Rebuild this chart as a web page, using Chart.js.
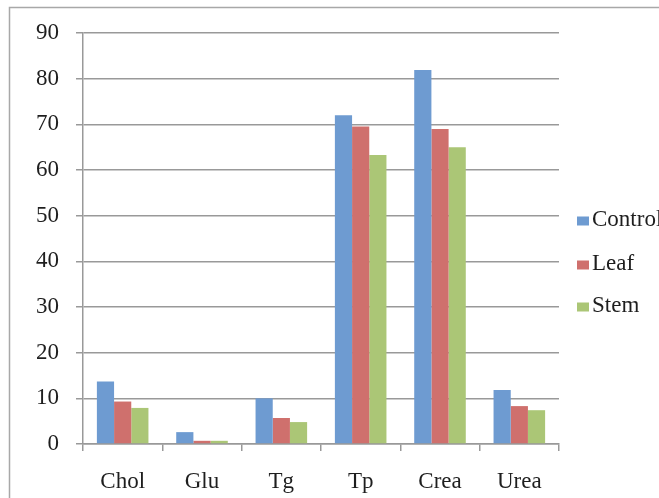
<!DOCTYPE html>
<html>
<head>
<meta charset="utf-8">
<script src="https://cdn.jsdelivr.net/npm/chart.js@4/dist/chart.umd.min.js"></script>
<style>
  html, body { margin: 0; padding: 0; background: #fff; overflow: hidden; }
  #wrap { width: 659px; height: 498px; }
</style>
</head>
<body>
<div id="wrap"><canvas id="c" width="659" height="498"></canvas></div>
<script>
// Serum parameters per group
const categories = ['Chol', 'Glu', 'Tg', 'Tp', 'Crea', 'Urea'];
const controlValues = [13.7, 2.6, 10.0, 72.0, 81.9, 11.8];
const leafValues    = [9.3, 0.7, 5.7, 69.5, 69.0, 8.3];
const stemValues    = [7.9, 0.7, 4.8, 63.3, 65.0, 7.4];
const yTicks = [0, 10, 20, 30, 40, 50, 60, 70, 80, 90];

const seriesNames = ['Control', 'Leaf', 'Stem'];
const seriesColors = ['#6e9bd1', '#cf706d', '#abc676'];

const FONT = '"Liberation Serif", "Times New Roman", serif';
const GRID = '#999999';

// Outer frame and a legend drawn beside the plot area
const framePlugin = {
  id: 'frame',
  beforeDraw(chart) {
    const ctx = chart.ctx;
    ctx.save();
    ctx.strokeStyle = '#a8a8a8';
    ctx.lineWidth = 1.5;
    ctx.strokeRect(9.5, 7.5, 700, 600);
    ctx.restore();
  },
  afterDraw(chart) {
    const ctx = chart.ctx;
    ctx.save();
    ctx.font = '23px ' + FONT;
    ctx.textBaseline = 'middle';
    const rows = [221, 265, 307];
    chart.data.datasets.forEach((ds, i) => {
      const y = rows[i];
      ctx.fillStyle = ds.backgroundColor;
      ctx.fillRect(577, y - 4.5, 12, 9);
      ctx.fillStyle = '#1e1e1e';
      ctx.fillText(ds.label, 592, y - 1);
    });
    ctx.restore();
  }
};

new Chart(document.getElementById('c'), {
  type: 'bar',
  data: {
    labels: categories,
    datasets: [
      { label: seriesNames[0], data: controlValues, backgroundColor: seriesColors[0] },
      { label: seriesNames[1], data: leafValues, backgroundColor: seriesColors[1] },
      { label: seriesNames[2], data: stemValues, backgroundColor: seriesColors[2] }
    ]
  },
  options: {
    responsive: false,
    animation: false,
    layout: { padding: { left: 0, top: 33, right: 100, bottom: 0 } },
    datasets: { bar: { categoryPercentage: 0.65, barPercentage: 1.0, borderWidth: 0 } },
    plugins: { legend: { display: false }, tooltip: { enabled: false } },
    scales: {
      x: {
        offset: true,
        grid: { offset: true, drawOnChartArea: false, drawTicks: true, tickLength: 7, color: GRID, lineWidth: 1.5 },
        border: { color: GRID, width: 1.5 },
        ticks: { font: { family: FONT, size: 23 }, color: '#1e1e1e', padding: 17, maxRotation: 0 },
        afterFit(scale) { scale.height = 54; }
      },
      y: {
        min: 0,
        max: 90,
        afterBuildTicks(scale) { scale.ticks = yTicks.map(v => ({ value: v })); },
        grid: { color: GRID, lineWidth: 1.5, tickLength: 7 },
        border: { color: GRID, width: 1.5 },
        ticks: { font: { family: FONT, size: 23 }, color: '#1e1e1e', padding: 17 },
        afterFit(scale) { scale.width = 83; }
      }
    }
  },
  plugins: [framePlugin]
});
</script>
</body>
</html>
